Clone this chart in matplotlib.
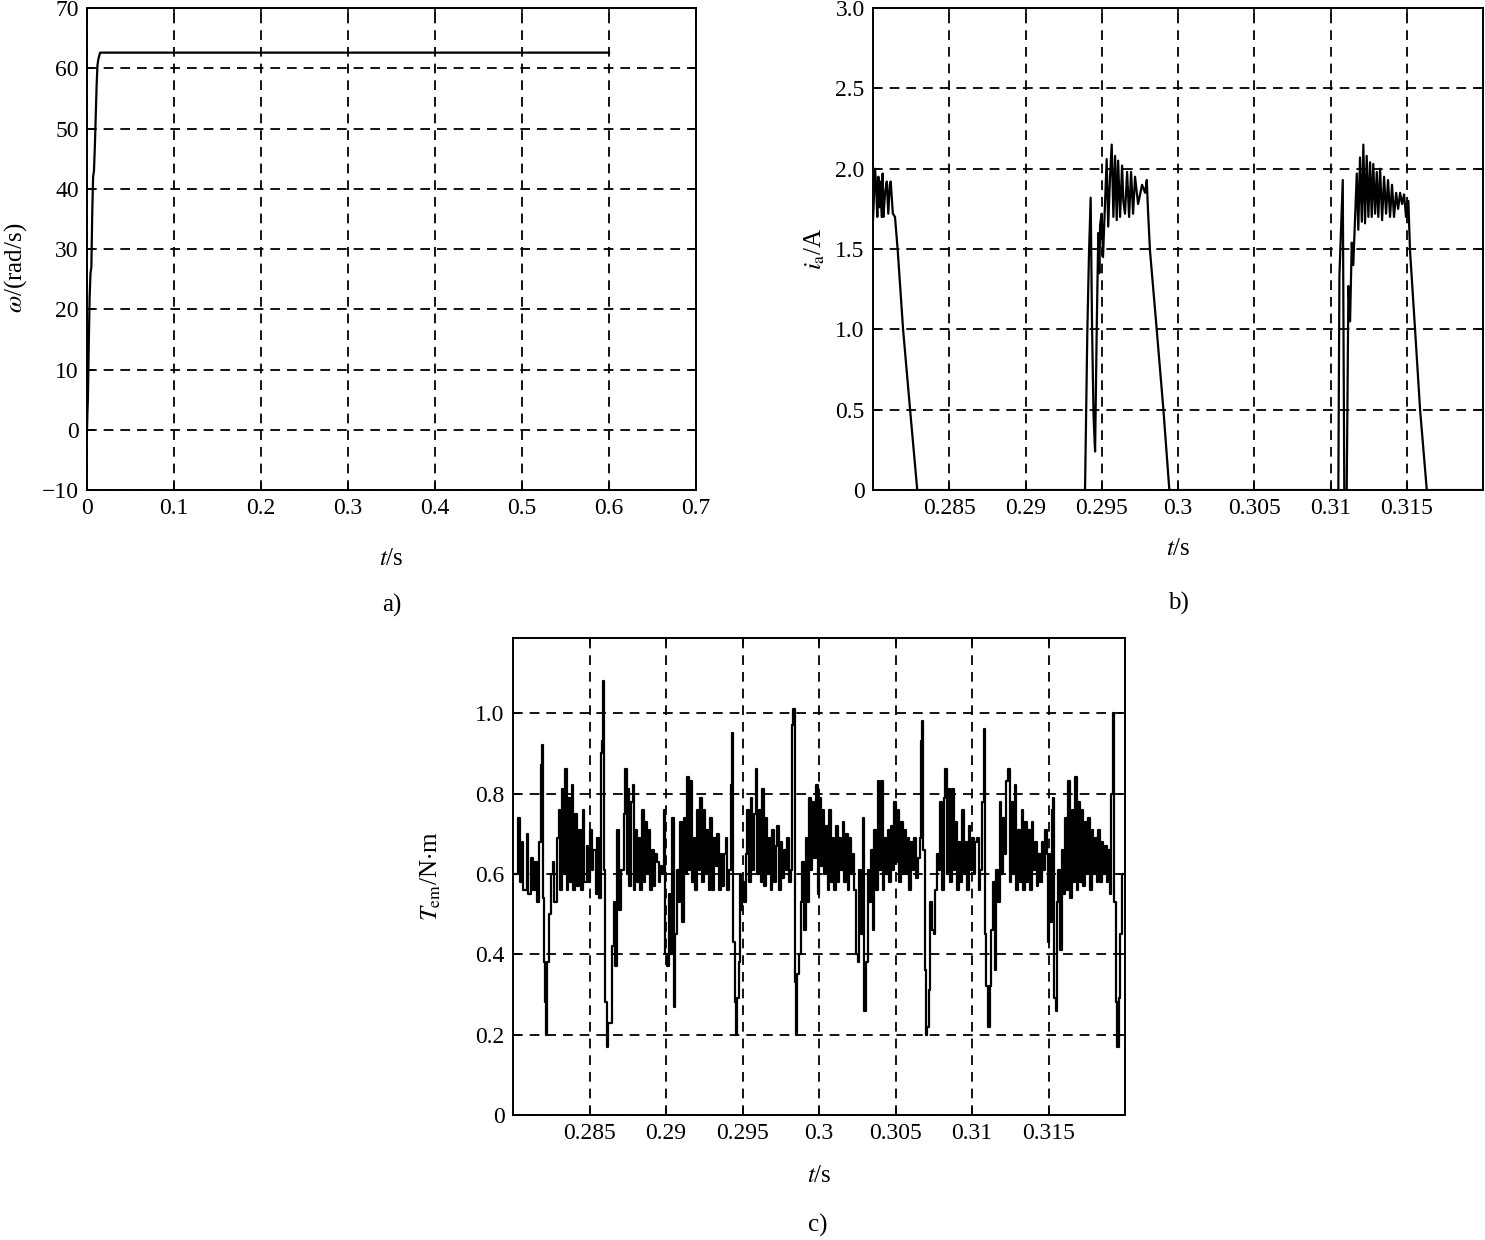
"""Speed, phase current and torque of the BLDC drive (three panels)."""

import numpy as np
import matplotlib
matplotlib.use("Agg")
import matplotlib.pyplot as plt

plt.rcParams["font.family"] = ["Liberation Serif", "DejaVu Serif"]
plt.rcParams["mathtext.fontset"] = "stix"
plt.rcParams["lines.scale_dashes"] = False
plt.rcParams["axes.unicode_minus"] = True

# ---- a) rotor speed ----
w_t = [0, 0.0005, 0.001, 0.002, 0.003, 0.004, 0.005, 0.006, 0.007, 0.008,
       0.009, 0.010, 0.011, 0.012, 0.013, 0.015, 0.6]
w_val = [0, 3, 5, 14, 22, 26, 27, 36, 42, 43, 47, 52, 57, 60.5, 61.5, 62.6, 62.6]

# ---- b) phase current (t in ms) ----
ia_t = [280.00, 280.05, 280.13, 280.20, 280.28, 280.35, 280.41, 280.47, 280.57,
        280.63, 280.68, 280.79, 280.90, 281.00, 281.10, 281.16, 281.30, 281.44,
        281.62, 281.97, 282.43, 282.90,
        293.90, 294.05, 294.16, 294.27, 294.36, 294.46, 294.56, 294.67, 294.77,
        294.84, 294.89, 294.99, 295.08, 295.21, 295.32, 295.42, 295.54, 295.65,
        295.76, 295.87, 295.98, 296.07, 296.20, 296.33, 296.41, 296.52, 296.66,
        296.79, 296.92, 297.05, 297.18, 297.38, 297.64, 297.84, 297.95, 298.03,
        298.16, 298.60, 299.04, 299.43,
        310.51, 310.58, 310.80, 310.90, 311.06, 311.17, 311.28, 311.39, 311.49,
        311.61, 311.72, 311.82, 311.93, 312.05, 312.15, 312.26, 312.37, 312.48,
        312.59, 312.70, 312.80, 312.92, 313.03, 313.13, 313.25, 313.38, 313.51,
        313.64, 313.77, 313.90, 314.03, 314.16, 314.30, 314.43, 314.56, 314.69,
        314.82, 314.95, 315.10, 315.21, 315.54, 315.87, 316.31, 320.00]
ia_val = [1.68, 1.80, 2.00, 1.90, 1.70, 1.95, 1.76, 1.92, 1.70, 1.97,
          1.70, 1.85, 1.92, 1.72, 1.90, 1.92, 1.72, 1.70,
          1.49, 1.00, 0.50, 0.00,
          0.00, 0.98, 1.47, 1.82, 1.02, 0.46, 0.24, 1.02, 1.60,
          1.35, 1.65, 1.72, 1.45, 1.78, 2.06, 1.64, 1.95, 2.15,
          1.70, 2.08, 1.68, 2.05, 1.70, 2.02, 1.80, 1.72, 1.98,
          1.70, 1.98, 1.72, 1.95, 1.78, 1.90, 1.85, 1.93, 1.74,
          1.49, 1.00, 0.50, 0.00,
          0.00, 1.33, 1.93, 0.00, 0.00, 1.27, 1.05, 1.54, 1.40,
          1.70, 1.97, 1.62, 2.07, 1.67, 2.15, 1.66, 2.08, 1.70,
          2.04, 1.70, 2.03, 1.72, 1.98, 1.70, 2.00, 1.68, 1.95,
          1.72, 1.93, 1.70, 1.90, 1.70, 1.85, 1.75, 1.85, 1.78,
          1.84, 1.70, 1.80, 1.49, 1.00, 0.50, 0.00, 0.00]

# ---- c) electromagnetic torque (t in ms) ----
te_t = [280.13, 280.35, 280.46, 280.57, 280.68, 280.89, 281.00, 281.15, 281.33,
        281.44, 281.59, 281.72, 281.83, 281.92, 281.98, 282.05, 282.09, 282.14,
        282.24, 282.38, 282.46, 282.59, 282.70, 282.86, 282.99, 283.07, 283.18,
        283.29, 283.40, 283.51, 283.62, 283.73, 283.84, 283.94, 284.05, 284.16,
        284.31, 284.44, 284.55, 284.64, 284.82, 284.92, 285.03, 285.14, 285.25,
        285.43, 285.51, 285.64, 285.73, 285.82, 285.88, 285.95, 286.01, 286.12,
        286.23,
        286.47, 286.58, 286.65, 286.80, 286.95, 287.08, 287.23, 287.34, 287.45,
        287.52, 287.60, 287.73, 287.82, 287.91, 288.00, 288.11, 288.21, 288.32,
        288.43, 288.54, 288.65, 288.76, 288.87, 288.98, 289.09, 289.19, 289.30,
        289.41, 289.52, 289.63, 289.74, 289.85, 289.96, 290.07, 290.18, 290.28,
        290.39, 290.50, 290.61, 290.72, 290.83, 290.94, 291.05, 291.16, 291.27,
        291.37, 291.48, 291.59, 291.70, 291.81, 291.92, 292.03, 292.14, 292.25,
        292.35, 292.46, 292.57, 292.68, 292.79, 292.90, 293.01, 293.12,
        293.25, 293.35, 293.46, 293.57, 293.68, 293.79, 293.90, 294.01, 294.12,
        294.23, 294.29, 294.38, 294.49, 294.55, 294.66, 294.77, 294.84, 294.92,
        294.99, 295.10, 295.21, 295.32, 295.43, 295.53, 295.64, 295.75, 295.86,
        295.97, 296.08, 296.19, 296.30, 296.41, 296.51, 296.62, 296.73, 296.84,
        296.95, 297.06, 297.17, 297.28, 297.39, 297.50, 297.60, 297.71, 297.82,
        297.93, 298.04, 298.15, 298.26, 298.32, 298.41, 298.50, 298.58, 298.69,
        298.80, 298.91, 299.02, 299.13, 299.24, 299.35, 299.46, 299.56, 299.67,
        299.78,
        299.91, 300.02, 300.13, 300.24, 300.35, 300.46, 300.57, 300.68, 300.79,
        300.89, 301.00, 301.11, 301.22, 301.33, 301.44, 301.55, 301.66, 301.77,
        301.87, 301.98, 302.09, 302.20, 302.31, 302.42, 302.53, 302.64, 302.75,
        302.86, 302.96, 303.07, 303.18, 303.29, 303.40, 303.51, 303.62, 303.73,
        303.84, 303.94, 304.05, 304.16, 304.27, 304.38, 304.49, 304.60, 304.71,
        304.82, 304.93, 305.03, 305.14, 305.25, 305.36, 305.47, 305.58, 305.69,
        305.80, 305.91, 306.01, 306.12, 306.23, 306.34, 306.45,
        306.58, 306.69, 306.75, 306.82, 306.91, 306.97, 307.06, 307.17, 307.28,
        307.39, 307.50, 307.60, 307.71, 307.82, 307.93, 308.04, 308.15, 308.26,
        308.37, 308.48, 308.59, 308.69, 308.80, 308.91, 309.02, 309.13, 309.24,
        309.35, 309.46, 309.57, 309.67, 309.78, 309.89, 310.00, 310.11, 310.22,
        310.33, 310.44, 310.55, 310.65, 310.76, 310.83, 310.94, 311.05, 311.16,
        311.27, 311.37, 311.48, 311.59, 311.70, 311.81, 311.92, 312.03, 312.14,
        312.25, 312.35, 312.46, 312.57, 312.68, 312.79, 312.90, 313.01, 313.12,
        313.25, 313.35, 313.46, 313.57, 313.68, 313.79, 313.90, 314.01, 314.12,
        314.23, 314.34, 314.44, 314.55, 314.66, 314.77, 314.88, 314.95, 315.03,
        315.10, 315.21, 315.32, 315.38, 315.47, 315.53, 315.64, 315.75, 315.86,
        315.97, 316.08, 316.19, 316.30, 316.41, 316.51, 316.62, 316.73, 316.84,
        316.95, 317.06, 317.17, 317.28, 317.39, 317.50, 317.60, 317.71, 317.82,
        317.93, 318.04, 318.15, 318.26, 318.37, 318.48, 318.59, 318.69, 318.80,
        318.91, 319.02, 319.09, 319.19, 319.30, 319.41, 319.50, 319.59, 319.67,
        319.78, 319.89]
te_val = [0.60, 0.74, 0.58, 0.68, 0.56, 0.70, 0.55, 0.64, 0.56,
          0.63, 0.53, 0.68, 0.87, 0.92, 0.54, 0.38, 0.28, 0.20,
          0.38, 0.50, 0.60, 0.63, 0.53, 0.69, 0.76, 0.56, 0.81,
          0.60, 0.86, 0.56, 0.79, 0.58, 0.82, 0.56, 0.75, 0.57,
          0.71, 0.56, 0.76, 0.58, 0.67, 0.58, 0.71, 0.61, 0.66,
          0.55, 0.69, 0.54, 0.90, 0.93, 1.08, 0.61, 0.28, 0.17,
          0.23,
          0.42, 0.53, 0.37, 0.71, 0.51, 0.61, 0.75, 0.86, 0.60,
          0.81, 0.57, 0.78, 0.82, 0.56, 0.71, 0.58, 0.69, 0.56,
          0.76, 0.58, 0.73, 0.60, 0.71, 0.56, 0.66, 0.57, 0.65,
          0.63, 0.58, 0.62, 0.60, 0.76, 0.40, 0.37, 0.55, 0.40,
          0.74, 0.27, 0.45, 0.61, 0.53, 0.73, 0.48, 0.74, 0.60,
          0.84, 0.61, 0.83, 0.58, 0.69, 0.56, 0.76, 0.61, 0.79,
          0.58, 0.76, 0.60, 0.71, 0.56, 0.74, 0.56, 0.69,
          0.62, 0.70, 0.56, 0.65, 0.57, 0.65, 0.69, 0.56, 0.61,
          0.82, 0.95, 0.43, 0.28, 0.20, 0.29, 0.38, 0.60, 0.51,
          0.58, 0.53, 0.65, 0.76, 0.58, 0.79, 0.61, 0.75, 0.86,
          0.60, 0.76, 0.58, 0.81, 0.57, 0.74, 0.60, 0.69, 0.56,
          0.71, 0.58, 0.67, 0.72, 0.56, 0.68, 0.59, 0.66, 0.61,
          0.69, 0.58, 0.61, 0.97, 1.01, 0.33, 0.20, 0.35, 0.40,
          0.53, 0.63, 0.46, 0.69, 0.53, 0.79, 0.61, 0.78, 0.64,
          0.82,
          0.55, 0.79, 0.62, 0.76, 0.60, 0.72, 0.56, 0.76, 0.58,
          0.69, 0.56, 0.72, 0.58, 0.69, 0.61, 0.73, 0.58, 0.70,
          0.56, 0.69, 0.60, 0.65, 0.56, 0.40, 0.38, 0.61, 0.45,
          0.74, 0.26, 0.38, 0.61, 0.53, 0.66, 0.46, 0.71, 0.56,
          0.83, 0.61, 0.83, 0.56, 0.69, 0.60, 0.71, 0.58, 0.72,
          0.61, 0.78, 0.63, 0.76, 0.58, 0.73, 0.60, 0.71, 0.60,
          0.69, 0.56, 0.68, 0.61, 0.69, 0.59, 0.64,
          0.69, 0.93, 0.98, 0.66, 0.36, 0.20, 0.22, 0.31, 0.53,
          0.46, 0.45, 0.56, 0.65, 0.61, 0.78, 0.56, 0.79, 0.86,
          0.60, 0.81, 0.58, 0.81, 0.61, 0.73, 0.56, 0.68, 0.58,
          0.76, 0.60, 0.68, 0.56, 0.72, 0.61, 0.69, 0.60, 0.68,
          0.69, 0.56, 0.61, 0.78, 0.96, 0.45, 0.32, 0.22, 0.32,
          0.46, 0.58, 0.36, 0.61, 0.53, 0.78, 0.60, 0.74, 0.65,
          0.83, 0.86, 0.58, 0.78, 0.60, 0.82, 0.56, 0.71, 0.58,
          0.76, 0.56, 0.73, 0.58, 0.71, 0.56, 0.73, 0.61, 0.68,
          0.57, 0.65, 0.58, 0.68, 0.61, 0.71, 0.65, 0.43, 0.65,
          0.48, 0.76, 0.79, 0.29, 0.26, 0.53, 0.61, 0.41, 0.66,
          0.55, 0.74, 0.56, 0.83, 0.54, 0.76, 0.58, 0.84, 0.56,
          0.78, 0.58, 0.76, 0.57, 0.73, 0.60, 0.74, 0.56, 0.71,
          0.60, 0.69, 0.58, 0.71, 0.58, 0.68, 0.60, 0.67, 0.58,
          0.66, 0.55, 0.80, 1.00, 0.53, 0.28, 0.17, 0.29, 0.45,
          0.60, 0.60]

# ---- tick labels ----
a_xticks = [0, 0.1, 0.2, 0.3, 0.4, 0.5, 0.6, 0.7]
a_xlabels = ["0", "0.1", "0.2", "0.3", "0.4", "0.5", "0.6", "0.7"]
a_yticks = [-10, 0, 10, 20, 30, 40, 50, 60, 70]
a_ylabels = ["\u221210", "0", "10", "20", "30", "40", "50", "60", "70"]
t_ticks = [0.285, 0.29, 0.295, 0.3, 0.305, 0.31, 0.315]
t_labels = ["0.285", "0.29", "0.295", "0.3", "0.305", "0.31", "0.315"]
b_yticks = [0, 0.5, 1.0, 1.5, 2.0, 2.5, 3.0]
b_ylabels = ["0", "0.5", "1.0", "1.5", "2.0", "2.5", "3.0"]
c_yticks = [0, 0.2, 0.4, 0.6, 0.8, 1.0]
c_ylabels = ["0", "0.2", "0.4", "0.6", "0.8", "1.0"]

FS = 17
GRID = dict(color="black", linestyle=(0, (7, 5)), linewidth=1.3)


def style(ax):
    for s in ax.spines.values():
        s.set_linewidth(1.4)
    ax.tick_params(direction="in", length=5, width=1.2, top=True, right=True,
                   labelsize=FS, pad=6)
    ax.grid(True, **GRID)
    ax.set_axisbelow(True)


fig = plt.figure(figsize=(14.85, 12.4), dpi=100)

ax1 = fig.add_axes([0.0586, 0.6048, 0.4101, 0.3887])
ax1.plot(w_t, w_val, color="black", lw=1.6)
ax1.set_xlim(0, 0.7)
ax1.set_ylim(-10, 70)
ax1.set_xticks(a_xticks, a_xlabels)
ax1.set_yticks(a_yticks, a_ylabels)
style(ax1)
ax1.set_xlabel("$t$/s", fontsize=FS + 1)
ax1.xaxis.set_label_coords(0.5, -0.12)
ax1.set_ylabel(r"$\omega$/(rad/s)", fontsize=FS + 1)
ax1.yaxis.set_label_coords(-0.095, 0.46)

ax2 = fig.add_axes([0.5879, 0.6048, 0.4108, 0.3887])
ax2.plot(np.array(ia_t) / 1000, ia_val, color="black", lw=1.6)
ax2.set_xlim(0.28, 0.32)
ax2.set_ylim(0, 3.0)
ax2.set_xticks(t_ticks, t_labels)
ax2.set_yticks(b_yticks, b_ylabels)
style(ax2)
ax2.set_xlabel("$t$/s", fontsize=FS + 1)
ax2.xaxis.set_label_coords(0.5, -0.1)
ax2.set_ylabel(r"$i_{\mathrm{a}}$/A", fontsize=FS + 1)
ax2.yaxis.set_label_coords(-0.075, 0.5)

ax3 = fig.add_axes([0.3455, 0.1008, 0.4121, 0.3847])
ax3.plot(np.array(te_t) / 1000, te_val, color="black", lw=1.6,
         drawstyle="steps-post")
ax3.set_xlim(0.28, 0.32)
ax3.set_ylim(0, 1.187)
ax3.set_xticks(t_ticks, t_labels)
ax3.set_yticks(c_yticks, c_ylabels)
style(ax3)
ax3.set_xlabel("$t$/s", fontsize=FS + 1)
ax3.xaxis.set_label_coords(0.5, -0.105)
ax3.set_ylabel(r"$T_{\mathrm{em}}$/N$\cdot$m", fontsize=FS + 1)
ax3.yaxis.set_label_coords(-0.115, 0.5)

fig.text(392 / 1485, 1 - 605 / 1240, "a)", ha="center", va="center", fontsize=FS + 1)
fig.text(1178 / 1485, 1 - 603 / 1240, "b)", ha="center", va="center", fontsize=FS + 1)
fig.text(818 / 1485, 1 - 1225 / 1240, "c)", ha="center", va="center", fontsize=FS + 1)

fig.savefig("out.png", dpi=100)
